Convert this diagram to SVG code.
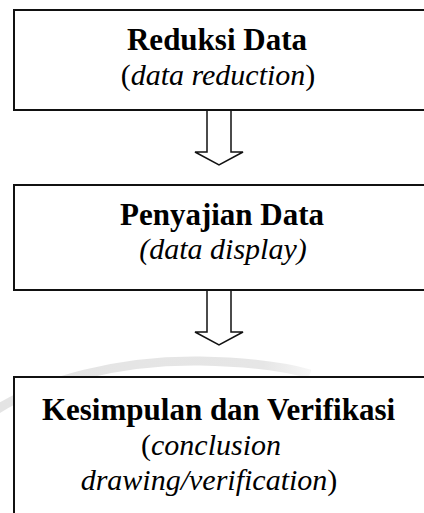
<svg xmlns="http://www.w3.org/2000/svg" width="424" height="513" viewBox="0 0 424 513">
<style>
.box{fill:#fff;stroke:#111;stroke-width:2}
.arr{fill:#fff;stroke:#111;stroke-width:1.5;stroke-linejoin:miter}
.t{font-family:"Liberation Serif","Times New Roman",serif;font-weight:bold;font-size:31px;fill:#000;text-anchor:middle}
.s{font-family:"Liberation Serif","Times New Roman",serif;font-size:30px;fill:#000;text-anchor:middle}
.i{font-style:italic}
</style>
<defs>
<linearGradient id="wm" x1="0" y1="0" x2="310" y2="0" gradientUnits="userSpaceOnUse">
<stop offset="0" stop-color="#e4e4e4"/>
<stop offset="0.85" stop-color="#e6e6e6"/>
<stop offset="1" stop-color="#f6f6f6"/>
</linearGradient>
</defs>
<rect width="424" height="513" fill="#fff"/>
<path d="M -10,414 C 40,380 120,360 200,361 C 250,362 285,367 310,374" fill="none" stroke="url(#wm)" stroke-width="9"/>
<g id="connectors">
<polygon class="arr" points="207,110 207,152 195,152 219,165 243,152 231,152 231,110"/>
<polygon class="arr" points="207,290 207,332 195,332 219,345 243,332 231,332 231,290"/>
</g>
<g id="node1">
<rect class="box" x="14" y="10" width="420" height="100"/>
<text class="t" x="217" y="50">Reduksi Data</text>
<text class="s" x="218" y="85">(<tspan class="i">data reduction</tspan>)</text>
</g>
<g id="node2">
<rect class="box" x="14" y="185" width="420" height="105"/>
<text class="t" x="222" y="225">Penyajian Data</text>
<text class="s i" x="223" y="259">(data display)</text>
</g>
<g id="node3">
<rect class="box" x="14" y="377" width="420" height="150"/>
<text class="t" x="218.5" y="420">Kesimpulan dan Verifikasi</text>
<text class="s" x="211" y="455">(<tspan class="i">conclusion</tspan></text>
<text class="s" x="209" y="490"><tspan class="i">drawing/verification</tspan>)</text>
</g>
</svg>
